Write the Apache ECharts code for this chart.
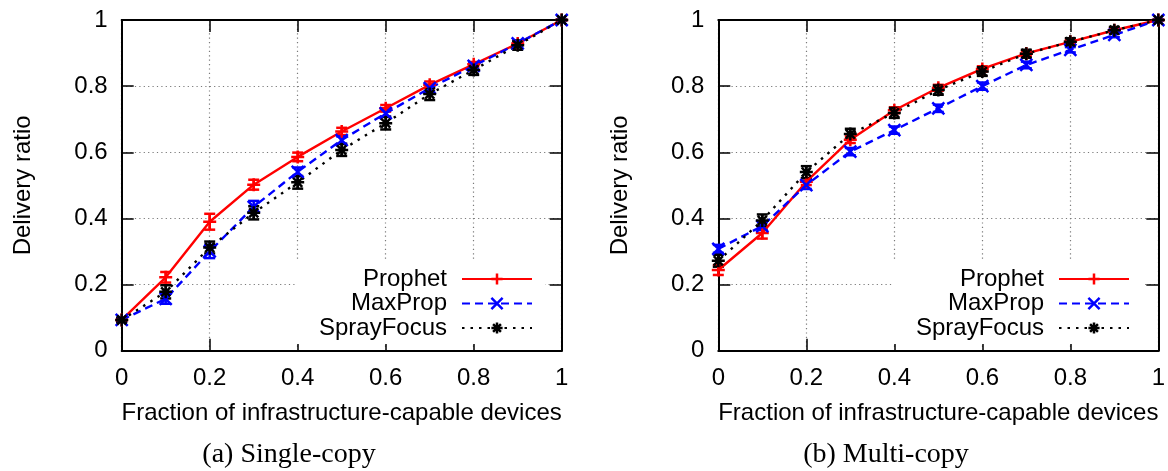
<!DOCTYPE html>
<html>
<head>
<meta charset="utf-8">
<script src="https://cdn.jsdelivr.net/npm/echarts@6/dist/echarts.min.js"></script>
<style>
  html, body { margin: 0; padding: 0; background: #fff; }
  #chart { width: 1168px; height: 471px; }
</style>
</head>
<body>
<div id="chart"></div>
<script>
// Fraction of infrastructure-capable devices (x values shared by every series)
const fractions = [0, 0.1, 0.2, 0.3, 0.4, 0.5, 0.6, 0.7, 0.8, 0.9, 1];
const tickLabels = ['0', '0.2', '0.4', '0.6', '0.8', '1'];
const seriesNames = ['Prophet', 'MaxProp', 'SprayFocus'];
const panelCaptions = ['(a) Single-copy', '(b) Multi-copy'];
const xTitle = 'Fraction of infrastructure-capable devices';
const yTitle = 'Delivery ratio';

// (a) Single-copy: mean delivery ratio and error half-widths
const singleProphet       = [0.093, 0.222, 0.390, 0.502, 0.586, 0.663, 0.733, 0.804, 0.866, 0.929, 1.0];
const singleProphetErr    = [0.005, 0.016, 0.024, 0.015, 0.013, 0.011, 0.010, 0.010, 0.007, 0.005, 0.0];
const singleMaxProp       = [0.093, 0.157, 0.300, 0.435, 0.541, 0.637, 0.718, 0.794, 0.861, 0.929, 1.0];
const singleMaxPropErr    = [0.005, 0.015, 0.020, 0.018, 0.013, 0.011, 0.010, 0.010, 0.008, 0.006, 0.0];
const singleSprayFocus    = [0.093, 0.178, 0.312, 0.417, 0.509, 0.607, 0.688, 0.776, 0.849, 0.924, 1.0];
const singleSprayFocusErr = [0.006, 0.020, 0.018, 0.020, 0.019, 0.018, 0.019, 0.018, 0.015, 0.014, 0.0];

// (b) Multi-copy: mean delivery ratio and error half-widths
const multiProphet        = [0.244, 0.356, 0.511, 0.638, 0.727, 0.795, 0.852, 0.899, 0.934, 0.969, 1.0];
const multiProphetErr     = [0.015, 0.017, 0.010, 0.010, 0.009, 0.009, 0.008, 0.008, 0.007, 0.006, 0.0];
const multiMaxProp        = [0.308, 0.377, 0.501, 0.602, 0.667, 0.733, 0.800, 0.864, 0.910, 0.955, 1.0];
const multiMaxPropErr     = [0.012, 0.012, 0.012, 0.011, 0.011, 0.011, 0.011, 0.010, 0.008, 0.007, 0.0];
const multiSprayFocus     = [0.272, 0.394, 0.540, 0.655, 0.719, 0.788, 0.844, 0.898, 0.934, 0.969, 1.0];
const multiSprayFocusErr  = [0.018, 0.018, 0.018, 0.016, 0.015, 0.014, 0.013, 0.012, 0.011, 0.010, 0.0];

const SANS = 'Liberation Sans';
const SERIF = 'Liberation Serif';

// gnuplot-style point glyphs drawn as strokes
const PLUS = 'path://M6,0L6,12M0,6L12,6';
const CROSS = 'path://M0,0L12,12M12,0L0,12';
const STAR = 'path://M6,0L6,12M0,6L12,6M1.8,1.8L10.2,10.2M10.2,1.8L1.8,10.2';

const styles = {
  Prophet:    { color: '#ff0000', dash: 'solid',  symbol: PLUS,  size: 13 },
  MaxProp:    { color: '#0000ff', dash: [8, 5],   symbol: CROSS, size: 12 },
  SprayFocus: { color: '#000000', dash: [2.5, 6], symbol: STAR,  size: 13 }
};

const panels = [
  { Prophet: [singleProphet, singleProphetErr], MaxProp: [singleMaxProp, singleMaxPropErr], SprayFocus: [singleSprayFocus, singleSprayFocusErr] },
  { Prophet: [multiProphet, multiProphetErr], MaxProp: [multiMaxProp, multiMaxPropErr], SprayFocus: [multiSprayFocus, multiSprayFocusErr] }
];

const grids = [
  { left: 121.7, right: 606.3, top: 20, bottom: 120.3 },
  { left: 718.3, right: 9, top: 20, bottom: 120.3 }
];

const tickFmt = v => tickLabels[Math.round(v / 0.2)];
const frame = { lineStyle: { color: '#000', width: 2 } };
const ticks = { inside: true, length: 12, lineStyle: { color: '#000', width: 1.5 } };
const gridLine = { show: true, lineStyle: { color: '#7a7a7a', width: 1.2, type: [1.2, 3.2] } };

const xAxes = [], yAxes = [], series = [], legends = [], graphics = [];

grids.forEach((g, gi) => {
  xAxes.push({
    type: 'value', gridIndex: gi, min: 0, max: 1, interval: 0.2, position: 'bottom',
    axisLine: { onZero: false, ...frame }, axisTick: ticks,
    axisLabel: { fontSize: 24, fontFamily: SANS, color: '#000', margin: 16, formatter: tickFmt },
    splitLine: gridLine,
    name: xTitle, nameLocation: 'middle', nameGap: 51,
    nameTextStyle: { fontSize: 24, fontFamily: SANS, color: '#000' }
  });
  xAxes.push({
    type: 'value', gridIndex: gi, min: 0, max: 1, interval: 0.2, position: 'top',
    axisLine: { onZero: false, ...frame }, axisTick: ticks,
    axisLabel: { show: false }, splitLine: { show: false }
  });
  yAxes.push({
    type: 'value', gridIndex: gi, min: 0, max: 1, interval: 0.2, position: 'left',
    axisLine: { onZero: false, ...frame }, axisTick: ticks,
    axisLabel: { fontSize: 24, fontFamily: SANS, color: '#000', margin: 14, formatter: tickFmt },
    splitLine: gridLine,
    name: yTitle, nameLocation: 'middle', nameGap: 86, nameRotate: 90,
    nameTextStyle: { fontSize: 24, fontFamily: SANS, color: '#000' }
  });
  yAxes.push({
    type: 'value', gridIndex: gi, min: 0, max: 1, interval: 0.2, position: 'right',
    axisLine: { onZero: false, ...frame }, axisTick: ticks,
    axisLabel: { show: false }, splitLine: { show: false }
  });

  seriesNames.forEach(name => {
    const st = styles[name];
    const [vals, errs] = panels[gi][name];
    const axisRef = { xAxisIndex: gi * 2, yAxisIndex: gi * 2 };
    // error bars with caps
    series.push({
      type: 'custom', name: name + ' error', ...axisRef, clip: false, z: 3, silent: true,
      data: fractions.map((x, i) => [x, vals[i], errs[i]]),
      encode: { x: 0, y: 1 },
      renderItem: (params, api) => {
        const x = api.value(0), y = api.value(1), e = api.value(2);
        const hi = api.coord([x, y + e]);
        const lo = api.coord([x, y - e]);
        const w = 5.5;
        const s = { stroke: st.color, lineWidth: 2.5 };
        return {
          type: 'group',
          children: [
            { type: 'line', shape: { x1: hi[0], y1: hi[1], x2: lo[0], y2: lo[1] }, style: s },
            { type: 'line', shape: { x1: hi[0] - w, y1: hi[1], x2: hi[0] + w, y2: hi[1] }, style: s },
            { type: 'line', shape: { x1: lo[0] - w, y1: lo[1], x2: lo[0] + w, y2: lo[1] }, style: s }
          ]
        };
      }
    });
    // mean curve with point glyphs
    series.push({
      type: 'line', name, ...axisRef, clip: false, z: 4,
      data: fractions.map((x, i) => [x, vals[i]]),
      symbol: st.symbol, symbolSize: st.size, showAllSymbol: true,
      lineStyle: { color: st.color, width: 2.4, type: st.dash },
      itemStyle: { color: st.color, borderColor: st.color, borderWidth: 2.5 }
    });
  });
});

legends.push(...[623, 26].map(r => ({
  orient: 'vertical', align: 'right', right: r, top: 262,
  itemWidth: 70, itemHeight: 14, itemGap: 0.5,
  padding: [5, 12, 4, 24], backgroundColor: '#fff',
  data: seriesNames, selectedMode: false,
  itemStyle: { borderWidth: 2.5 },
  formatter: n => '{t|' + n + '}',
  textStyle: {
    fontSize: 24, fontFamily: SANS, color: '#000', lineHeight: 24,
    rich: { t: { fontSize: 24, fontFamily: SANS, color: '#000', lineHeight: 24, padding: [0, 10, 0, 0] } }
  }
})));

[289, 886].forEach((cx, i) => {
  graphics.push({
    type: 'text', x: cx, y: 455,
    style: { text: panelCaptions[i], fontSize: 28, fontFamily: SERIF, fill: '#000', align: 'center', verticalAlign: 'middle' }
  });
});

const chart = echarts.init(document.getElementById('chart'), null, { renderer: 'canvas' });
chart.setOption({
  animation: false,
  backgroundColor: '#fff',
  grid: grids,
  xAxis: xAxes,
  yAxis: yAxes,
  legend: legends,
  series: series,
  graphic: graphics
});
</script>
</body>
</html>
